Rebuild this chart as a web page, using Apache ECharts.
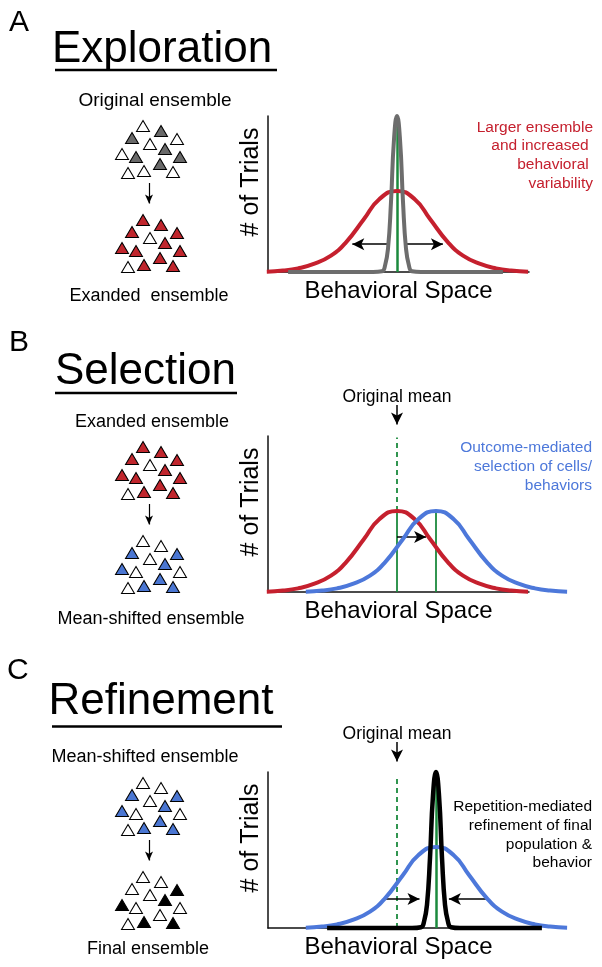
<!DOCTYPE html>
<html lang="en">
<head>
<meta charset="UTF-8" />
<title>exploration / selection / refinement</title>
<script src="https://cdn.jsdelivr.net/npm/echarts@6/dist/echarts.min.js"></script>
<style>
  html, body { margin: 0; padding: 0; background: #fff; }
  #main { width: 602px; height: 967px; }
</style>
</head>
<body>
<div id="main"></div>
<script>
// texts
var panelLetters = ['A', 'B', 'C'];
var panelTitles = ['Exploration', 'Selection', 'Refinement'];
var topLabels = ['Original ensemble', 'Exanded ensemble', 'Mean-shifted ensemble'];
var bottomLabels = ['Exanded  ensemble', 'Mean-shifted ensemble', 'Final ensemble'];
var noteA = ['Larger ensemble', 'and increased ', 'behavioral ', 'variability'];
var noteB = ['Outcome-mediated', 'selection of cells/', 'behaviors'];
var noteC = ['Repetition-mediated', 'refinement of final', 'population &', 'behavior'];
var meanLabel = 'Original mean';

// ensemble triangles (same layout in every cluster), fill per triangle
var ensembleX = [25, 43, 14, 32, 59, 47, 4, 18, 62, 42, 10, 26, 55];
var ensembleY = [6, 11, 18, 24, 19, 29, 34, 37, 37, 44, 53, 51, 52];
var fillOriginal = ['w', 'g', 'g', 'w', 'w', 'g', 'w', 'g', 'g', 'g', 'w', 'w', 'w'];
var fillExpanded = ['r', 'r', 'r', 'w', 'r', 'r', 'r', 'r', 'r', 'r', 'w', 'r', 'r'];
var fillShifted  = ['w', 'w', 'b', 'w', 'b', 'b', 'b', 'w', 'w', 'b', 'w', 'b', 'b'];
var fillFinal    = ['w', 'w', 'w', 'w', 'k', 'k', 'k', 'w', 'w', 'w', 'w', 'k', 'k'];
var ensembleShift = 94;
var ensembleArrow = [[31, 63, 31, 83.5]];

// distributions (behavioral space, # of trials)
var redX  = [-43.4, -38, -33, -28, -22, -17, -11, -6, 0, 6, 11, 17, 22, 28, 33, 38, 43.7];
var redY  = [0.2, 0.9, 2.3, 5, 10.5, 19, 34, 46.5, 52, 46.5, 34, 19, 10.5, 5, 2.3, 0.9, 0.2];
var blueX = [-30.4, -25, -20, -15, -9, -4, 2, 7, 13, 19, 24, 30, 35, 41, 46, 51, 56.7];
var blueY = [0.2, 0.9, 2.3, 5, 10.5, 19, 34, 46.5, 52, 46.5, 34, 19, 10.5, 5, 2.3, 0.9, 0.2];
var grayX = [-36.3, -8, -5, -4, -3, -2, -1, 0, 1, 2, 3, 4, 5, 8, 35.3];
var grayY = [0, 0, 0.5, 4, 15, 45, 85, 100, 85, 45, 15, 4, 0.5, 0, 0];
var blackX = [-23.3, 5, 8, 9, 10, 11, 12, 13, 14, 15, 16, 17, 18, 21, 48.3];
var blackY = [0, 0, 0.5, 4, 15, 45, 85, 100, 85, 45, 15, 4, 0.5, 0, 0];

// means (green) and arrows: [x1, y1, x2, y2]
var meanA = [[0, 0, 0, 100]];
var meanB = [[0, 0, 0, 52], [13, 0, 13, 52]];
var meanBDash = [[0, 52, 0, 99]];
var meanC = [[13, 0, 13, 100]];
var meanCDash = [[0, 0, 0, 98]];
var arrowsA = [[-3.3, 17.8, -14.9, 17.8], [3.3, 17.8, 15.3, 17.8]];
var arrowsB = [[0, 35.2, 9.7, 35.2], [0, 119.9, 0, 107.4]];
var arrowsC = [[-4, 18.6, 7.5, 18.6], [29.9, 18.6, 17.3, 18.6], [0, 119.2, 0, 106.7]];

var FONT = '"Liberation Sans", Arial, sans-serif';
var fillColor = { w: '#ffffff', g: '#696969', r: '#c0262d', b: '#4a76d2', k: '#000000' };
var RED = '#c5202e', BLUE = '#4d78da', GRAY = '#6d6d6d', GREEN = '#1b8a3d';

var chartTops = [116, 436, 772];
var ensembleTops = [120, 441, 777];

var grids = [], xAxes = [], yAxes = [];
// 0-2: visible chart axes
chartTops.forEach(function (t) {
  grids.push({ left: 268, top: t, width: 261, height: 156 });
  xAxes.push({
    type: 'value', min: -43, max: 44, gridIndex: grids.length - 1,
    axisLine: { onZero: false, lineStyle: { color: '#111', width: 1.5 } },
    axisTick: { show: false }, axisLabel: { show: false }, splitLine: { show: false },
    name: 'Behavioral Space', nameLocation: 'middle', nameGap: 7,
    nameTextStyle: { fontSize: 24, color: '#000', fontFamily: FONT }
  });
  yAxes.push({
    type: 'value', min: 0, max: 100, gridIndex: grids.length - 1,
    axisLine: { onZero: false, lineStyle: { color: '#111', width: 1.5 } },
    axisTick: { show: false }, axisLabel: { show: false }, splitLine: { show: false },
    name: '# of Trials', nameLocation: 'middle', nameGap: 4,
    nameTextStyle: { fontSize: 25, color: '#000', fontFamily: FONT, padding: [0, 0, 0, 24] }
  });
});
// 3-5: ensembles
ensembleTops.forEach(function (t) {
  grids.push({ left: 118, top: t, width: 66, height: 160 });
  xAxes.push({ type: 'value', min: 0, max: 66, show: false, gridIndex: grids.length - 1 });
  yAxes.push({ type: 'value', min: 0, max: 160, inverse: true, show: false, gridIndex: grids.length - 1 });
});
// 6-7: wider hidden scales for the shifted curves in B and C (run past the axis end)
[chartTops[1], chartTops[2]].forEach(function (t) {
  grids.push({ left: 268, top: t, width: 300, height: 156 });
  xAxes.push({ type: 'value', min: -43, max: 57, show: false, gridIndex: grids.length - 1 });
  yAxes.push({ type: 'value', min: 0, max: 100, show: false, gridIndex: grids.length - 1 });
});

function curve(gi, xs, ys, color, width) {
  return {
    type: 'line', xAxisIndex: gi, yAxisIndex: gi, clip: false, silent: true,
    smooth: 0.5, symbol: 'none',
    data: xs.map(function (x, i) { return [x, ys[i]]; }),
    lineStyle: { color: color, width: width }
  };
}

function segs(gi, list, color, width, dashed, arrow, headSize) {
  return {
    type: 'lines', coordinateSystem: 'cartesian2d', xAxisIndex: gi, yAxisIndex: gi,
    clip: false, silent: true,
    symbol: arrow ? ['none', 'arrow'] : ['none', 'none'],
    symbolSize: headSize ? [headSize, headSize] : 0,
    data: list.map(function (s) { return { coords: [[s[0], s[1]], [s[2], s[3]]] }; }),
    lineStyle: { color: color, width: width, type: dashed ? [5, 4] : 'solid', opacity: 1, curveness: 0 }
  };
}

function ensemble(gi, fills, shift) {
  return {
    type: 'scatter', xAxisIndex: gi, yAxisIndex: gi, silent: true,
    symbol: 'triangle', symbolSize: [13, 11],
    data: ensembleX.map(function (x, i) {
      return { value: [x, ensembleY[i] + shift], itemStyle: { color: fillColor[fills[i]] } };
    }),
    itemStyle: { borderColor: '#000', borderWidth: 1, opacity: 1 }
  };
}

var series = [
  // A
  curve(0, redX, redY, RED, 4),
  curve(0, grayX, grayY, GRAY, 4),
  segs(0, meanA, GREEN, 2.5, false, false),
  segs(0, arrowsA, '#000', 1.5, false, true, [9, 12]),
  // B
  curve(1, redX, redY, RED, 4),
  curve(6, blueX, blueY, BLUE, 4),
  segs(1, meanB, GREEN, 1.8, false, false),
  segs(1, meanBDash, GREEN, 1.8, true, false),
  segs(1, arrowsB, '#000', 1.5, false, true, [9, 12]),
  // C
  curve(7, blueX, blueY, BLUE, 4),
  curve(7, blackX, blackY, '#000', 4.5),
  segs(2, meanC, GREEN, 2.5, false, false),
  segs(2, meanCDash, GREEN, 1.8, true, false),
  segs(2, arrowsC, '#000', 1.5, false, true, [9, 12]),
  // ensembles
  ensemble(3, fillOriginal, 0), ensemble(3, fillExpanded, ensembleShift),
  segs(3, ensembleArrow, '#000', 1.2, false, true, [6, 9]),
  ensemble(4, fillExpanded, 0), ensemble(4, fillShifted, ensembleShift),
  segs(4, ensembleArrow, '#000', 1.2, false, true, [6, 9]),
  ensemble(5, fillShifted, 0), ensemble(5, fillFinal, ensembleShift),
  segs(5, ensembleArrow, '#000', 1.2, false, true, [6, 9])
];

function txt(s, x, y, size, opts) {
  opts = opts || {};
  return {
    type: 'text', x: x, y: y, silent: true,
    style: {
      text: s, font: size + 'px ' + FONT, fill: opts.fill || '#000',
      align: opts.align || 'center', verticalAlign: 'middle',
      lineHeight: opts.lineHeight
    }
  };
}
function rule(x1, x2, y) {
  return { type: 'line', silent: true, shape: { x1: x1, y1: y, x2: x2, y2: y }, style: { stroke: '#000', lineWidth: 2.5 } };
}

var graphics = [
  txt(panelLetters[0], 9, 23, 30, { align: 'left' }),
  txt(panelLetters[1], 9, 343, 30, { align: 'left' }),
  txt(panelLetters[2], 7, 671, 30, { align: 'left' }),
  txt(panelTitles[0], 52, 49.5, 44, { align: 'left' }),
  txt(panelTitles[1], 55, 371.5, 44, { align: 'left' }),
  txt(panelTitles[2], 48.5, 701.5, 44, { align: 'left' }),
  rule(55, 277, 70), rule(55, 237, 393), rule(52, 282, 726.5),
  txt(topLabels[0], 155, 100.5, 19),
  txt(bottomLabels[0], 149, 296, 18),
  txt(topLabels[1], 152, 422, 18),
  txt(bottomLabels[1], 151, 619, 18),
  txt(topLabels[2], 145, 757, 18),
  txt(bottomLabels[2], 148, 949, 18),
  txt(meanLabel, 397, 397, 17.5),
  txt(meanLabel, 397, 734, 17.5),
  txt(noteA.join('\n'), 593, 155.5, 15.5, { align: 'right', fill: RED, lineHeight: 18.8 }),
  txt(noteB.join('\n'), 592, 467, 15.5, { align: 'right', fill: BLUE, lineHeight: 18.9 }),
  txt(noteC.join('\n'), 592, 835, 15.5, { align: 'right', fill: '#000', lineHeight: 18.7 })
];

var chart = echarts.init(document.getElementById('main'));
chart.setOption({
  backgroundColor: '#fff',
  animation: false,
  grid: grids,
  xAxis: xAxes,
  yAxis: yAxes,
  series: series,
  graphic: { elements: graphics }
});
</script>
</body>
</html>
